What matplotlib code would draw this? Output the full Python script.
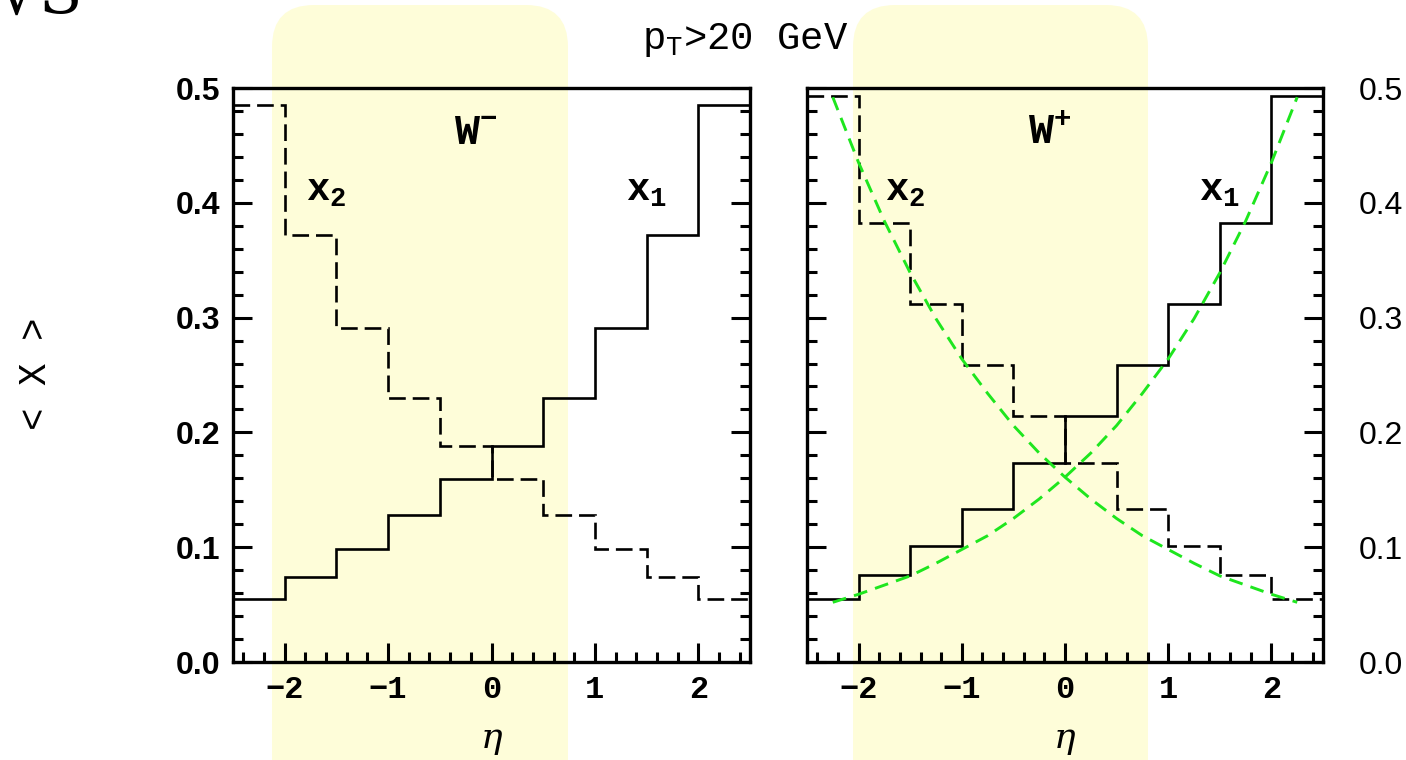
import matplotlib
matplotlib.use("Agg")
import matplotlib.pyplot as plt
from matplotlib.patches import FancyBboxPatch
from matplotlib.ticker import MultipleLocator

# -------------------------------------------------
# Data: average momentum fractions vs. lepton pseudorapidity
# -------------------------------------------------
eta_edges = [-2.5, -2.0, -1.5, -1.0, -0.5, 0.0, 0.5, 1.0, 1.5, 2.0, 2.5]

# W- production
wm_x1 = [0.055, 0.074, 0.098, 0.128, 0.159, 0.188, 0.230, 0.291, 0.372, 0.485]
wm_x2 = [0.485, 0.372, 0.291, 0.230, 0.188, 0.159, 0.128, 0.098, 0.074, 0.055]

# W+ production
wp_x1 = [0.055, 0.076, 0.101, 0.133, 0.173, 0.214, 0.259, 0.312, 0.382, 0.493]
wp_x2 = [0.493, 0.382, 0.312, 0.259, 0.214, 0.173, 0.133, 0.101, 0.076, 0.055]

# leading-order kinematic curves drawn on the W+ panel
lo_eta = [-2.25, -2.0, -1.75, -1.5, -1.25, -1.0, -0.75, -0.5, -0.25, 0.0,
          0.25, 0.5, 0.75, 1.0, 1.25, 1.5, 1.75, 2.0, 2.25]
lo_x1 = [0.052, 0.059, 0.067, 0.075, 0.086, 0.098, 0.110, 0.125, 0.142, 0.161,
         0.182, 0.206, 0.234, 0.264, 0.299, 0.339, 0.384, 0.435, 0.492]
lo_x2 = [0.492, 0.435, 0.384, 0.339, 0.299, 0.264, 0.234, 0.206, 0.182, 0.161,
         0.142, 0.125, 0.110, 0.098, 0.086, 0.075, 0.067, 0.059, 0.052]

x_ticks = [-2, -1, 0, 1, 2]
x_tick_labels = ["\u22122", "\u22121", "0", "1", "2"]
y_ticks = [0.0, 0.1, 0.2, 0.3, 0.4, 0.5]
y_tick_labels = ["0.0", "0.1", "0.2", "0.3", "0.4", "0.5"]

plt.rcParams["mathtext.fontset"] = "custom"
plt.rcParams["mathtext.rm"] = "Liberation Mono"
plt.rcParams["mathtext.bf"] = "Liberation Mono:bold"
plt.rcParams["lines.scale_dashes"] = False

W, H = 1406, 760
fig = plt.figure(figsize=(W / 100, H / 100), dpi=100)
fig.patch.set_facecolor("white")

# pale yellow highlight bands behind both panels
for x0, x1 in [(272, 568), (853, 1148)]:
    band = FancyBboxPatch((x0 / 100, -1.0), (x1 - x0) / 100, (H - 5) / 100 + 1.0,
                          boxstyle="round,pad=0,rounding_size=0.42",
                          transform=fig.dpi_scale_trans, facecolor="#FEFDD9",
                          edgecolor="none", zorder=-5)
    fig.patches.append(band)

def px_box(left, right, top, bottom):
    return [left / W, 1 - bottom / H, (right - left) / W, (bottom - top) / H]

ax1 = fig.add_axes(px_box(233, 750, 88, 662))
ax2 = fig.add_axes(px_box(807, 1323, 88, 662))

black_dash = (0, (12, 5))
green_dash = (0, (10, 6))

for ax in (ax1, ax2):
    ax.set_facecolor("none")
    ax.set_xlim(-2.5, 2.5)
    ax.set_ylim(0.0, 0.5)
    for sp in ax.spines.values():
        sp.set_linewidth(2.4)
    ax.xaxis.set_minor_locator(MultipleLocator(0.2))
    ax.yaxis.set_minor_locator(MultipleLocator(0.02))
    ax.tick_params(which="both", direction="in", top=False, right=True,
                   left=True, bottom=True, width=2.2)
    ax.tick_params(which="major", length=14)
    ax.tick_params(which="minor", length=7)
    ax.tick_params(axis="x", which="major", pad=9)
    ax.set_xticks(x_ticks)
    ax.set_xticklabels(x_tick_labels, fontfamily="Liberation Mono",
                       fontweight="bold", fontsize=23)
    ax.set_yticks(y_ticks)
    ax.text(0.0, -0.133, "\u03b7", ha="center", va="center", fontsize=26,
            fontfamily="DejaVu Serif", fontstyle="italic",
            transform=ax.get_xaxis_transform())

# left panel: W-
ax1.stairs(wm_x1, eta_edges, baseline=None, color="black", lw=1.9)
ax1.stairs(wm_x2, eta_edges, baseline=None, color="black", lw=1.9,
           linestyle=black_dash)
ax1.set_yticklabels(y_tick_labels, fontfamily="Liberation Sans",
                    fontweight="bold", fontsize=23)
ax1.tick_params(axis="y", which="major", pad=9)
ax1.text(-0.15, 0.462, r"$\mathbf{W^{-}}$", ha="center", va="center", fontsize=30)
ax1.text(-1.6, 0.411, r"$\mathbf{x_2}$", ha="center", va="center", fontsize=28)
ax1.text(1.5, 0.411, r"$\mathbf{x_1}$", ha="center", va="center", fontsize=28)

# right panel: W+
ax2.stairs(wp_x1, eta_edges, baseline=None, color="black", lw=1.9)
ax2.stairs(wp_x2, eta_edges, baseline=None, color="black", lw=1.9,
           linestyle=black_dash)
ax2.plot(lo_eta, lo_x1, color="#1EE61E", lw=2.1, linestyle=green_dash)
ax2.plot(lo_eta, lo_x2, color="#1EE61E", lw=2.1, linestyle=green_dash)
ax2.set_yticklabels(y_tick_labels, fontfamily="Liberation Sans", fontsize=23)
ax2.tick_params(axis="y", which="major", labelleft=False, labelright=True, pad=26)
ax2.text(-0.15, 0.462, r"$\mathbf{W^{+}}$", ha="center", va="center", fontsize=30)
ax2.text(-1.55, 0.411, r"$\mathbf{x_2}$", ha="center", va="center", fontsize=28)
ax2.text(1.5, 0.411, r"$\mathbf{x_1}$", ha="center", va="center", fontsize=28)

# shared labels
fig.text(745 / W, 1 - 40 / H, r"$\mathrm{p_T}$>20 GeV", ha="center", va="center",
         fontsize=28, fontfamily="Liberation Mono")
fig.text(36 / W, 1 - 374 / H, "< X >", ha="center", va="center", rotation=90,
         fontsize=27, fontfamily="Liberation Mono")
fig.text(-2 / W, 1 - 14 / H, "\u221aS", ha="left", va="baseline", fontsize=46,
         fontfamily="DejaVu Serif")

fig.savefig("out.png", dpi=100)
